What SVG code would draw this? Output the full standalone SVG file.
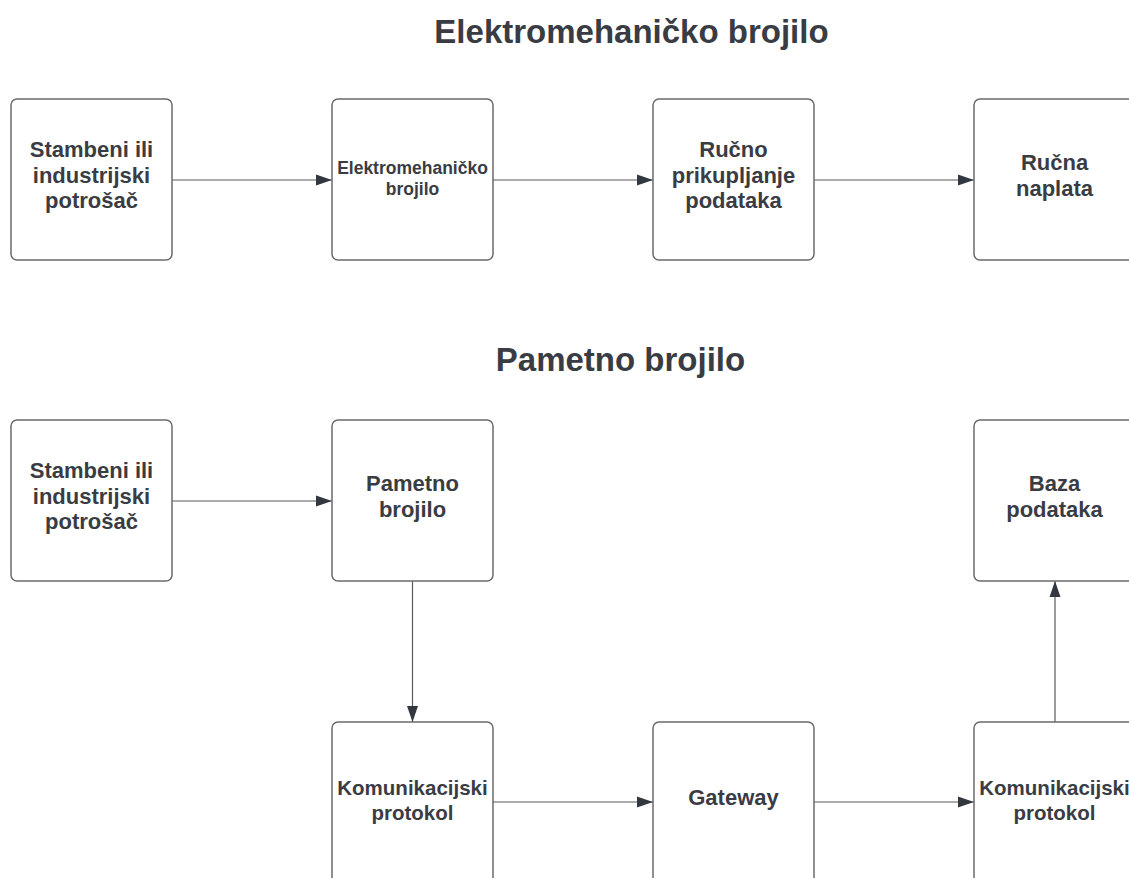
<svg xmlns="http://www.w3.org/2000/svg" width="1129" height="878" viewBox="0 0 1129 878">
<defs>
<style>
.box{fill:#ffffff;stroke:#6b6b6b;stroke-width:1.5}
.t{font-family:"Liberation Sans",Arial,sans-serif;font-weight:bold;fill:#3a3c44;text-anchor:middle}
.title{font-size:33px}
.n{font-size:22px}
.s{font-size:17.5px}
.k{font-size:20.5px}
.c{fill:none;stroke:#5a5a5a;stroke-width:1.2}
</style>
<marker id="ah" viewBox="0 0 16 12" refX="16" refY="6" markerWidth="16" markerHeight="12" markerUnits="userSpaceOnUse" orient="auto">
<path d="M0,0.5 L16,6 L0,11.5 Z" fill="#333840"/>
</marker>
</defs>
<rect width="1129" height="878" fill="#ffffff"/>
<text class="t title" x="631.5" y="43">Elektromehaničko brojilo</text>
<text class="t title" x="620.5" y="371">Pametno brojilo</text>
<g id="connectors">
<line class="c" x1="172" y1="180" x2="332" y2="180" marker-end="url(#ah)"/>
<line class="c" x1="493" y1="180" x2="653" y2="180" marker-end="url(#ah)"/>
<line class="c" x1="814" y1="180" x2="974" y2="180" marker-end="url(#ah)"/>
<line class="c" x1="172" y1="501" x2="332" y2="501" marker-end="url(#ah)"/>
<line class="c" x1="412.5" y1="581" x2="412.5" y2="722" marker-end="url(#ah)"/>
<line class="c" x1="493" y1="802" x2="653" y2="802" marker-end="url(#ah)"/>
<line class="c" x1="814" y1="802" x2="974" y2="802" marker-end="url(#ah)"/>
<line class="c" x1="1055" y1="722" x2="1055" y2="581" marker-end="url(#ah)"/>
</g>
<g id="n1">
<rect class="box" x="11" y="99" width="161" height="161" rx="6"/>
<text class="t n" x="91.5" y="157">Stambeni ili</text>
<text class="t n" x="91.5" y="183">industrijski</text>
<text class="t n" x="91.5" y="208">potrošač</text>
</g>
<g id="n2">
<rect class="box" x="332" y="99" width="161" height="161" rx="6"/>
<text class="t s" x="412.5" y="174">Elektromehaničko</text>
<text class="t s" x="412.5" y="195">brojilo</text>
</g>
<g id="n3">
<rect class="box" x="653" y="99" width="161" height="161" rx="6"/>
<text class="t n" x="733.5" y="157">Ručno</text>
<text class="t n" x="733.5" y="183">prikupljanje</text>
<text class="t n" x="733.5" y="208">podataka</text>
</g>
<g id="n4">
<rect class="box" x="974" y="99" width="161" height="161" rx="6"/>
<text class="t n" x="1054.5" y="170">Ručna</text>
<text class="t n" x="1054.5" y="196">naplata</text>
</g>
<g id="n5">
<rect class="box" x="11" y="420" width="161" height="161" rx="6"/>
<text class="t n" x="91.5" y="478">Stambeni ili</text>
<text class="t n" x="91.5" y="504">industrijski</text>
<text class="t n" x="91.5" y="529">potrošač</text>
</g>
<g id="n6">
<rect class="box" x="332" y="420" width="161" height="161" rx="6"/>
<text class="t n" x="412.5" y="491">Pametno</text>
<text class="t n" x="412.5" y="517">brojilo</text>
</g>
<g id="n7">
<rect class="box" x="974" y="420" width="161" height="161" rx="6"/>
<text class="t n" x="1054.5" y="491">Baza</text>
<text class="t n" x="1054.5" y="517">podataka</text>
</g>
<g id="n8">
<rect class="box" x="332" y="722" width="161" height="161" rx="6"/>
<text class="t k" x="412.5" y="795">Komunikacijski</text>
<text class="t k" x="412.5" y="820">protokol</text>
</g>
<g id="n9">
<rect class="box" x="653" y="722" width="161" height="161" rx="6"/>
<text class="t n" x="733.5" y="805">Gateway</text>
</g>
<g id="n10">
<rect class="box" x="974" y="722" width="161" height="161" rx="6"/>
<text class="t k" x="1054.5" y="795">Komunikacijski</text>
<text class="t k" x="1054.5" y="820">protokol</text>
</g>
</svg>
